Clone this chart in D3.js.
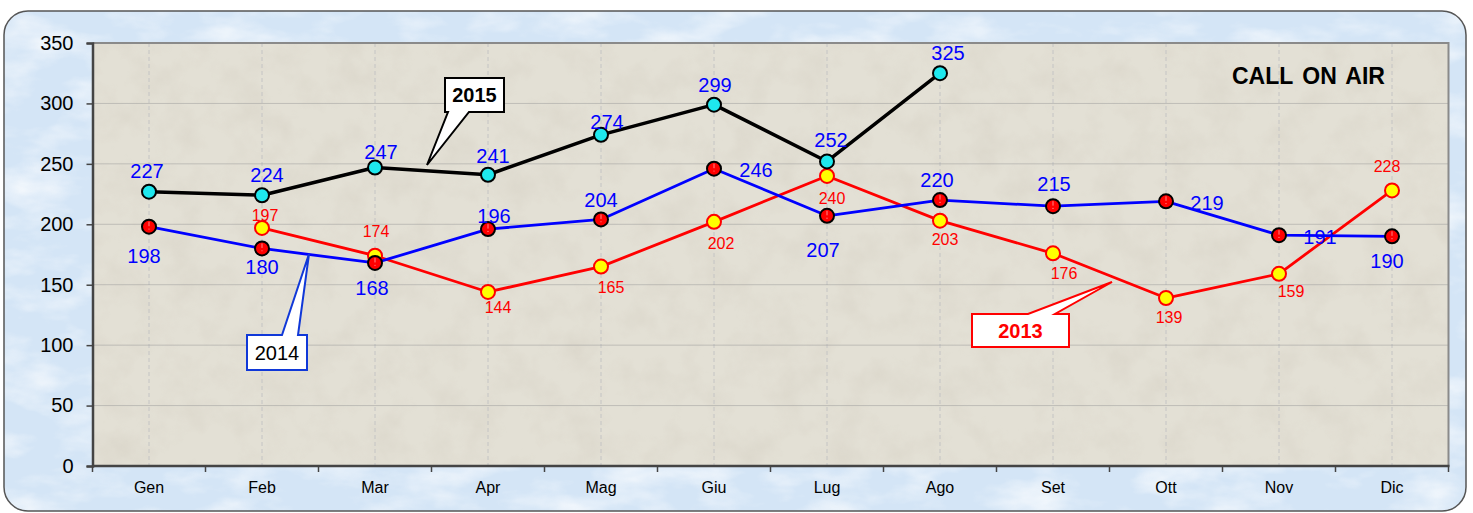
<!DOCTYPE html>
<html>
<head>
<meta charset="utf-8">
<script src="https://cdn.jsdelivr.net/npm/d3@7"></script>
<style>
  html, body { margin: 0; padding: 0; background: #ffffff; }
  svg { display: block; font-family: Arial, "Liberation Sans", sans-serif; }
</style>
</head>
<body>
<svg id="chart" width="1473" height="513"></svg>
<script>
// ---------------- data ----------------
const months = ["Gen","Feb","Mar","Apr","Mag","Giu","Lug","Ago","Set","Ott","Nov","Dic"];
const yTicks = [0, 50, 100, 150, 200, 250, 300, 350];
const values2015 = [227, 224, 247, 241, 274, 299, 252, 325, null, null, null, null];
const values2014 = [198, 180, 168, 196, 204, 246, 207, 220, 215, 219, 191, 190];
const values2013 = [null, 197, 174, 144, 165, 202, 240, 203, 176, 139, 159, 228];
const titleText = "CALL ON AIR";

// label offsets (layout only) [dx, dy] relative to each point
const lab2015 = [[-2,-14],[5,-13],[6,-8],[5,-12],[6,-6],[1,-13],[4,-14],[8,-13]];
const lab2014 = [[-5,36],[0,26],[-3,32],[6,-6],[0,-12],[42,8],[-4,41],[-3,-13],[1,-15],[41,9],[41,9],[-5,32]];
const lab2013 = [null,[3,-7],[1,-19],[10,21],[10,26],[7,27],[5,28],[5,24],[11,26],[3,25],[12,23],[-5,-18]];

// ---------------- layout ----------------
const svg = d3.select("#chart");
const plot = { left: 92.5, right: 1448.5, top: 43, bottom: 466 };

const x = d3.scaleBand().domain(months).range([plot.left, plot.right]).padding(0);
const cx = m => x(m) + x.bandwidth() / 2;
const y = d3.scaleLinear().domain([0, 350]).range([plot.bottom, plot.top]);

// ---------------- textures ----------------
const defs = svg.append("defs");
const f1 = defs.append("filter").attr("id", "texBlue").attr("x", 0).attr("y", 0).attr("width", 1).attr("height", 1);
f1.append("feTurbulence").attr("type", "fractalNoise").attr("baseFrequency", "0.015 0.035").attr("numOctaves", 4).attr("seed", 3).attr("result", "n");
f1.append("feColorMatrix").attr("in", "n").attr("type", "matrix")
  .attr("values", "0 0 0 0 1  0 0 0 0 1  0 0 0 0 1  1.8 0 0 0 -0.8");
const f2 = defs.append("filter").attr("id", "texBeige").attr("x", 0).attr("y", 0).attr("width", 1).attr("height", 1);
f2.append("feTurbulence").attr("type", "fractalNoise").attr("baseFrequency", "0.03").attr("numOctaves", 4).attr("seed", 7).attr("result", "n");
f2.append("feColorMatrix").attr("in", "n").attr("type", "matrix")
  .attr("values", "0 0 0 0 0.55  0 0 0 0 0.5  0 0 0 0 0.42  1.2 0 0 0 -0.5");

// outer frame
svg.append("rect").attr("x", 4).attr("y", 11).attr("width", 1462).attr("height", 500)
  .attr("rx", 24).attr("fill", "#d4e5f6");
svg.append("rect").attr("x", 4).attr("y", 11).attr("width", 1462).attr("height", 500)
  .attr("rx", 24).attr("fill", "#fff").attr("filter", "url(#texBlue)").attr("opacity", 0.8);
svg.append("rect").attr("x", 4).attr("y", 11).attr("width", 1462).attr("height", 500)
  .attr("rx", 24).attr("fill", "none").attr("stroke", "#555").attr("stroke-width", 1.5);

// plot background
svg.append("rect").attr("x", plot.left).attr("y", plot.top)
  .attr("width", plot.right - plot.left).attr("height", plot.bottom - plot.top)
  .attr("fill", "#e3e0d5");
svg.append("rect").attr("x", plot.left).attr("y", plot.top)
  .attr("width", plot.right - plot.left).attr("height", plot.bottom - plot.top)
  .attr("fill", "#000").attr("filter", "url(#texBeige)").attr("opacity", 0.35);

// vertical dashed gridlines at category centres
svg.append("g").selectAll("line").data(months).join("line")
  .attr("x1", d => cx(d)).attr("x2", d => cx(d))
  .attr("y1", plot.top).attr("y2", plot.bottom)
  .attr("stroke", "#c4c4c4").attr("stroke-width", 1).attr("stroke-dasharray", "4,3");

// horizontal dotted gridlines
svg.append("g").selectAll("line").data(yTicks.filter(t => t > 0 && t < 350)).join("line")
  .attr("x1", plot.left).attr("x2", plot.right)
  .attr("y1", d => y(d)).attr("y2", d => y(d))
  .attr("stroke", "#9a9a9a").attr("stroke-width", 1).attr("stroke-dasharray", "1,1");

// top & right border
svg.append("path")
  .attr("d", `M${plot.left},${plot.top}H${plot.right}V${plot.bottom}`)
  .attr("fill", "none").attr("stroke", "#8a8a8a").attr("stroke-width", 2);

// y axis
const yAxis = d3.axisLeft(y).tickValues(yTicks).tickSize(6).tickPadding(13);
const gy = svg.append("g").attr("transform", `translate(${plot.left},0)`).call(yAxis);
gy.select(".domain").attr("stroke", "#444").attr("stroke-width", 2.5);
gy.selectAll(".tick line").attr("stroke", "#444").attr("stroke-width", 1.5);
gy.selectAll(".tick text").attr("font-size", 20).attr("fill", "#000")
  .attr("font-family", "Arial, 'Liberation Sans', sans-serif");

// x axis: ticks at band boundaries, labels at centres
const gx = svg.append("g").attr("transform", `translate(0,${plot.bottom})`);
gx.append("line").attr("x1", plot.left).attr("x2", plot.right + 1)
  .attr("stroke", "#444").attr("stroke-width", 2.5);
const bounds = months.map(m => x(m)).concat([plot.right]);
gx.selectAll("line.tk").data(bounds).join("line").attr("class", "tk")
  .attr("x1", d => d).attr("x2", d => d).attr("y1", 0).attr("y2", 6)
  .attr("stroke", "#444").attr("stroke-width", 1.5);
gx.selectAll("text").data(months).join("text")
  .attr("x", d => cx(d)).attr("y", 27).attr("text-anchor", "middle")
  .attr("font-size", 16).attr("fill", "#000").text(d => d);

// ---------------- lines ----------------
function series(vals) {
  return months.map((m, i) => ({ m, v: vals[i], i })).filter(d => d.v !== null);
}
const s2015 = series(values2015), s2014 = series(values2014), s2013 = series(values2013);
const line = d3.line().x(d => cx(d.m)).y(d => y(d.v));

svg.append("path").datum(s2013).attr("d", line).attr("fill", "none")
  .attr("stroke", "#ff0000").attr("stroke-width", 2.8).attr("stroke-linejoin", "round");
svg.append("path").datum(s2014).attr("d", line).attr("fill", "none")
  .attr("stroke", "#0000ff").attr("stroke-width", 2.8).attr("stroke-linejoin", "round");
svg.append("path").datum(s2015).attr("d", line).attr("fill", "none")
  .attr("stroke", "#000").attr("stroke-width", 3.5).attr("stroke-linejoin", "round");

// ---------------- markers ----------------
svg.append("g").selectAll("circle").data(s2013).join("circle")
  .attr("cx", d => cx(d.m)).attr("cy", d => y(d.v)).attr("r", 7)
  .attr("fill", "#ffff00").attr("stroke", "#ff0000").attr("stroke-width", 2);

const g14 = svg.append("g").selectAll("g").data(s2014).join("g")
  .attr("transform", d => `translate(${cx(d.m)},${y(d.v)})`);
g14.append("circle").attr("r", 7).attr("fill", "#ff0000").attr("stroke", "#000").attr("stroke-width", 2);
g14.append("line").attr("x1", 0).attr("x2", 0).attr("y1", -5).attr("y2", -0.5)
  .attr("stroke", "#ff9a9a").attr("stroke-width", 0.9);
g14.append("circle").attr("cy", 2.3).attr("r", 0.6).attr("fill", "#ff9a9a");

svg.append("g").selectAll("circle").data(s2015).join("circle")
  .attr("cx", d => cx(d.m)).attr("cy", d => y(d.v)).attr("r", 7)
  .attr("fill", "#1ee8ee").attr("stroke", "#000").attr("stroke-width", 2);

// ---------------- data labels ----------------
svg.append("g").selectAll("text").data(s2013).join("text")
  .attr("x", d => cx(d.m) + lab2013[d.i][0]).attr("y", d => y(d.v) + lab2013[d.i][1])
  .attr("text-anchor", "middle").attr("font-size", 16).attr("fill", "#ff0000").text(d => d.v);
svg.append("g").selectAll("text").data(s2014).join("text")
  .attr("x", d => cx(d.m) + lab2014[d.i][0]).attr("y", d => y(d.v) + lab2014[d.i][1])
  .attr("text-anchor", "middle").attr("font-size", 20).attr("fill", "#0000ff").text(d => d.v);
svg.append("g").selectAll("text").data(s2015).join("text")
  .attr("x", d => cx(d.m) + lab2015[d.i][0]).attr("y", d => y(d.v) + lab2015[d.i][1])
  .attr("text-anchor", "middle").attr("font-size", 20).attr("fill", "#0000ff").text(d => d.v);

// ---------------- title ----------------
svg.append("text").attr("x", 1232).attr("y", 84).attr("font-size", 23)
  .attr("word-spacing", 3)
  .attr("font-weight", "bold").attr("fill", "#000").text(titleText);

// ---------------- callouts ----------------
function callout(box, tail, tailEdge, stroke, label, bold, color) {
  const [x0, y0, x1, y1] = box;
  const [ta, tb, tx, ty] = tail;
  let d;
  if (tailEdge === "bottom") {
    d = `M${x0},${y0}H${x1}V${y1}H${tb}L${tx},${ty}L${ta},${y1}H${x0}Z`;
  } else {
    d = `M${x0},${y0}H${ta}L${tx},${ty}L${tb},${y0}H${x1}V${y1}H${x0}Z`;
  }
  svg.append("path").attr("d", d).attr("fill", "#fff").attr("stroke", stroke)
    .attr("stroke-width", 2).attr("stroke-linejoin", "miter");
  svg.append("text").attr("x", (x0 + x1) / 2).attr("y", (y0 + y1) / 2 + 7)
    .attr("text-anchor", "middle").attr("font-size", 20)
    .attr("font-weight", bold ? "bold" : "normal").attr("fill", color).text(label);
}
callout([445, 78, 504, 112], [448, 469, 427, 165], "bottom", "#000", "2015", true, "#000");
callout([247, 335, 307, 370], [282, 298, 309, 254], "top", "#1038d8", "2014", false, "#000");
callout([972, 314, 1069, 347], [1028, 1055, 1112, 282], "top", "#ff0000", "2013", true, "#ff0000");
</script>
</body>
</html>
